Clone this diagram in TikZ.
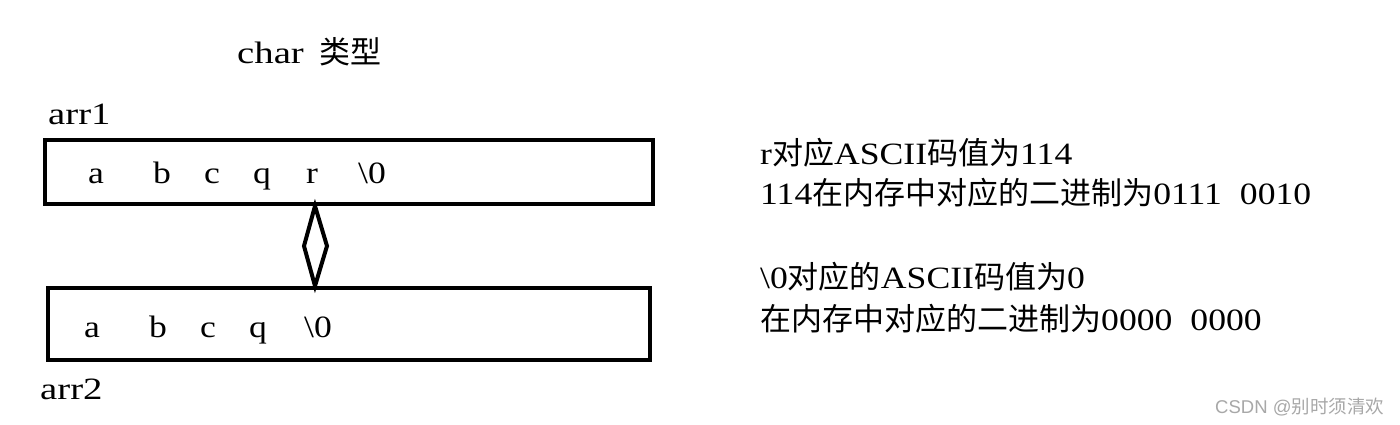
\documentclass[tikz,border=0pt]{standalone}
\usepackage{fontspec}
\setmainfont[FakeStretch=1.15]{Liberation Serif}
\newfontfamily\wide[FakeStretch=1.25]{Liberation Serif}
\setsansfont{Liberation Sans}
\newfontfamily\cjk{Noto Sans CJK SC}
\definecolor{wm}{HTML}{A8A8A8}
\tikzset{
  txt/.style={inner sep=0pt, font=\fontsize{31}{36}\selectfont},
  cell/.style={txt, anchor=base},
  line/.style={txt, anchor=base west},
  box/.style={draw, line width=4pt, inner sep=0pt},
  link/.style={draw, line width=4pt, line join=miter},
}
\begin{document}
\begin{tikzpicture}[x=1pt,y=-1pt]
\useasboundingbox[fill=white] (0,0) rectangle (1400,424);
% title
\node[line] (title) at (237,63) {\wide char\hspace{16pt}{\cjk 类型}};
% arrays
\node[line] (l1) at (48,124) {\wide arr1};
\node[box, minimum width=608pt, minimum height=64pt] (b1) at (349,172) {};
\node[box, minimum width=602pt, minimum height=72pt] (b2) at (349,324) {};
\node[line] (l2) at (40,399) {\wide arr2};
% cells row 1
\node[cell] (a1) at (96,183) {a};
\node[cell] (c1b) at (162,183) {b};
\node[cell] (c1c) at (212,183) {c};
\node[cell] (c1q) at (262,183) {q};
\node[cell] (c1r) at (312,183) {r};
\node[cell] (c1z) at (372,183) {\textbackslash0};
% cells row 2
\node[cell] (a2) at (92,337) {a};
\node[cell] (c2b) at (158,337) {b};
\node[cell] (c2c) at (208,337) {c};
\node[cell] (c2q) at (258,337) {q};
\node[cell] (c2z) at (318,337) {\textbackslash0};
% diamond connector
\coordinate (dt) at (b1.south -| 315,0);
\coordinate (db) at (b2.north -| 315,0);
\coordinate (dr) at (327,246);
\coordinate (dl) at (304,246);
\draw[link] (dt) -- (dr) -- (db) -- (dl) -- cycle;
% explanations
\node[line] (t1) at (760,164) {r{\cjk 对应}ASCII{\cjk 码值为}114};
\node[line] (t2) at (760,204) {114{\cjk 在内存中对应的二进制为}0111\hspace{18pt}0010};
\node[line] (t3) at (760,288) {\textbackslash0{\cjk 对应的}ASCII{\cjk 码值为}0};
\node[line] (t4) at (760,330) {{\cjk 在内存中对应的二进制为}0000\hspace{18pt}0000};
% watermark
\node[anchor=base west, inner sep=0pt, text=wm, font=\sffamily\fontsize{18.5}{22}\selectfont] (wmk) at (1215,413) {CSDN @{\cjk 别时须清欢}};
\end{tikzpicture}
\end{document}
